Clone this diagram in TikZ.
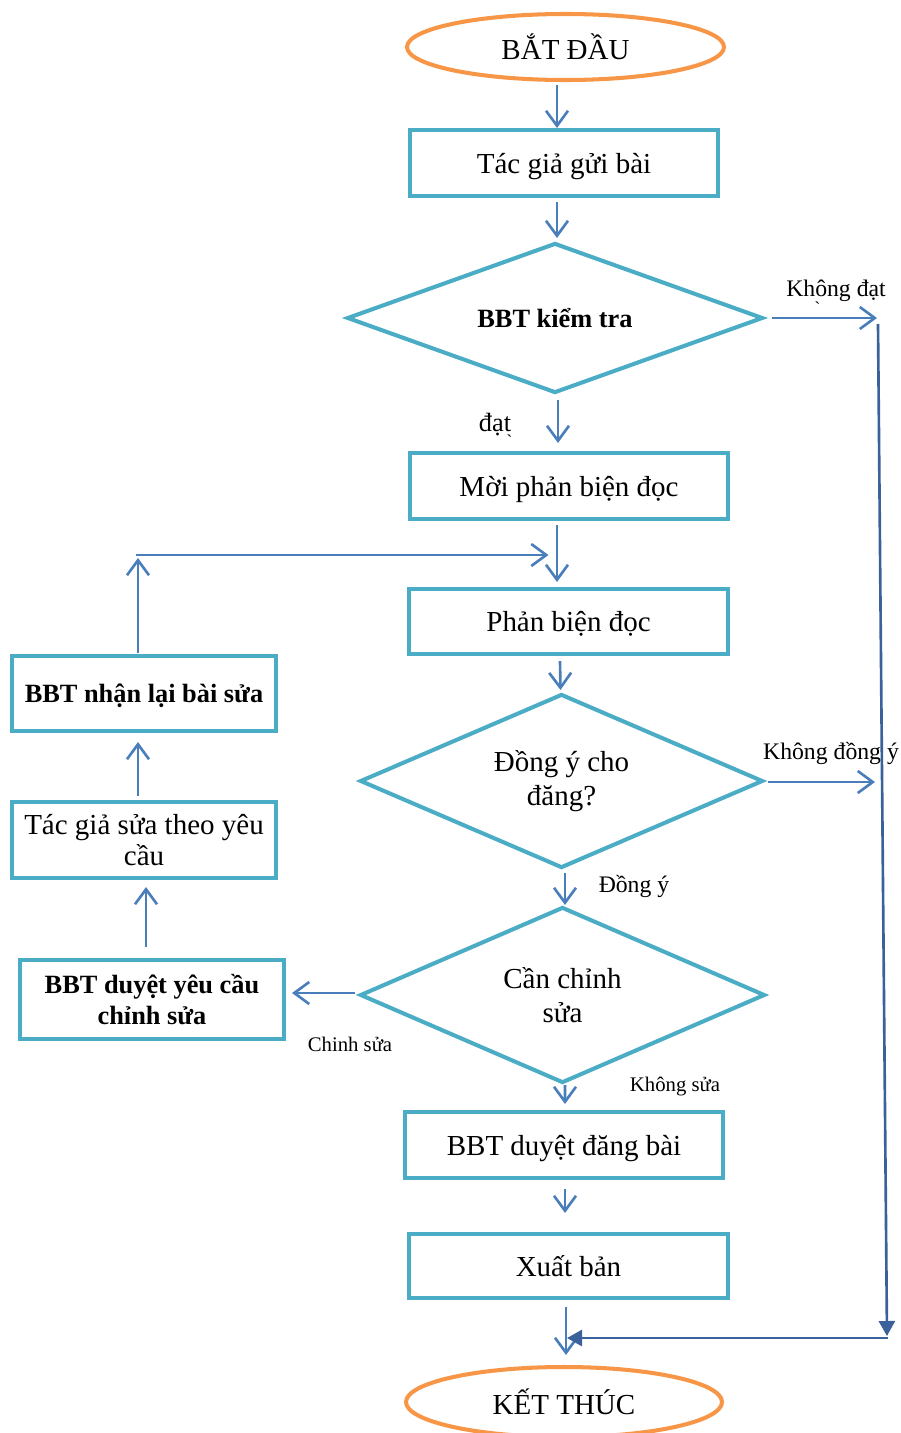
\documentclass[tikz,border=0pt]{standalone}
\usepackage{fontspec}
\setmainfont{Liberation Serif}
\usetikzlibrary{shapes.geometric,arrows.meta,calc}
\definecolor{framec}{HTML}{4BACC6}
\definecolor{termc}{HTML}{F79646}
\definecolor{flowc}{HTML}{4A7EBB}
\definecolor{rejectc}{HTML}{3A6199}

\begin{document}
\begin{tikzpicture}[x=0.02cm,y=-0.02cm,
  size/.style 2 args={minimum width=#1*0.02cm,minimum height=#2*0.02cm},
  box/.style={draw=framec,line width=2.3pt,rectangle,inner sep=0pt,align=center,
    font=\fontsize{16.5}{18}\selectfont},
  oneline/.style={text depth=0pt},
  boldbox/.style={box,font=\fontsize{15}{17.5}\selectfont\bfseries},
  decision/.style={draw=framec,line width=2.3pt,diamond,shape aspect=2.4,inner sep=0pt,
    align=center,font=\fontsize{16.5}{19}\selectfont},
  terminal/.style={draw=termc,line width=2.3pt,ellipse,inner sep=0pt,
    font=\fontsize{16.5}{19}\selectfont},
  arr/.style={draw=flowc,line width=1.5pt,-{Straight Barb[length=0.3cm,width=0.44cm]}},
  rej/.style={draw=rejectc,line width=1.5pt,-{Triangle[length=0.3cm,width=0.32cm]}},
  lbl/.style={font=\fontsize{13.5}{16}\selectfont,inner sep=0pt},
  slbl/.style={font=\fontsize{11.8}{14}\selectfont,inner sep=0pt}
]
\useasboundingbox (0,0) rectangle (901,1433);

% nodes of the main column
\node[terminal,oneline,size={317}{66}] (start) at (565.5,47) {BẮT ĐẦU};
\node[box,oneline,size={308}{66}] (b1) at (564,163) {Tác giả gửi bài};
\node[decision,oneline,size={416}{150},font=\fontsize{15}{18}\selectfont\bfseries] (d1) at (555,318) {BBT kiểm tra};
\node[box,oneline,size={318}{66}] (b2) at (569,486) {Mời phản biện đọc};
\node[box,oneline,size={319}{65}] (b3) at (568.5,621.5) {Phản biện đọc};
\node[decision,size={403}{174}] (d2) at (561.5,781) {Đồng ý cho\\đăng?};
\node[decision,size={405}{176}] (d3) at (562.5,995) {Cần chỉnh\\sửa};
\node[box,oneline,size={318}{66}] (bdd) at (564,1145) {BBT duyệt đăng bài};
\node[box,oneline,size={319}{64}] (xb) at (568.5,1266) {Xuất bản};
\node[terminal,oneline,size={316}{70}] (end) at (564,1402) {KẾT THÚC};

% revision loop on the left
\node[boldbox,oneline,size={264}{75}] (bn) at (144,693.5) {BBT nhận lại bài sửa};
\node[box,size={264}{76}] (bt) at (144,840) {Tác giả sửa theo yêu\\cầu};
\node[boldbox,size={264}{79}] (bd) at (152,999.5) {BBT duyệt yêu cầu\\chỉnh sửa};

% helper points
\coordinate (k1) at (877,318);
\coordinate (k2) at (875,782);
\coordinate (r1) at (878,324);
\coordinate (r2) at (887,1336);
\coordinate (r3) at (888,1338);
\coordinate (m) at ($(r3 -| end.north)+(3,0)$);
\coordinate (L1) at (138,555);
\coordinate (L2) at ($(L1 -| b3.north)+(-20,0)$);

% main flow
\draw[arr] ($(start.south)+(-8.5,3)$) -- ($(b1.north)+(-7,0)$);
\draw[arr] ($(b1.south)+(-7,4)$) -- ($(d1.north)+(2,-3)$);
\draw[arr] ($(d1.south)+(3,5)$) -- ($(b2.north)+(-11,-8)$);
\draw[arr] ($(b2.south)+(-12,4)$) -- ($(b3.north)+(-11.5,-5)$);
\draw[arr] ($(b3.south)+(-8.5,5)$) -- ($(d2.north)+(-1,-2)$);
\draw[arr] ($(d2.south)+(3.5,3)$) -- ($(d3.north)+(2.5,0)$);
\draw[arr] ($(d3.south)+(2.5,0)$) -- ($(bdd.north)+(1,-6)$);
\draw[arr] ($(bdd.south)+(1,9)$) -- ($(xb.north)+(-3.5,-19)$);
\draw[arr] ($(xb.south)+(-2.5,7)$) -- ($(end.north)+(2,-10)$);

% rejection branches
\draw[arr] ($(d1.east)+(7,0)$) -- (k1);
\draw[arr] ($(d2.east)+(3,1)$) -- (k2);
\draw[rej] (r1) -- (r2);
\draw[rej] (r3) -- (m);

% revision loop
\draw[arr] ($(d3.west)+(-3,-2)$) -- ($(bd.east)+(6,-6.5)$);
\draw[arr] ($(bd.north)+(-6,-11)$) -- ($(bt.south)+(2,7)$);
\draw[arr] ($(bt.north)+(-6,-4)$) -- ($(bn.south)+(-6,9)$);
\draw[arr] ($(bn.north)+(-6,-1)$) -- ($(L1)+(0,3)$);
\draw[arr] ($(L1)+(-2,0)$) -- (L2);

% branch labels
\node[lbl] (lk1) at (836,291) {Không đạt};
\node[lbl,font=\fontsize{10}{12}\selectfont] (lk1g) at (818,310) {\`{}};
\node[lbl,font=\fontsize{15}{18}\selectfont] (ldat) at (495,425) {đạt};
\node[lbl,font=\fontsize{10}{12}\selectfont] (ldatg) at (510,443) {\`{}};
\node[lbl] (lk2) at (831,753) {Không đồng ý};
\node[lbl] (ldy) at (634,886) {Đồng ý};
\node[slbl] (lcs) at (350,1044) {Chinh sửa};
\node[slbl] (lks) at (675,1087) {Không sửa};
\end{tikzpicture}
\end{document}
